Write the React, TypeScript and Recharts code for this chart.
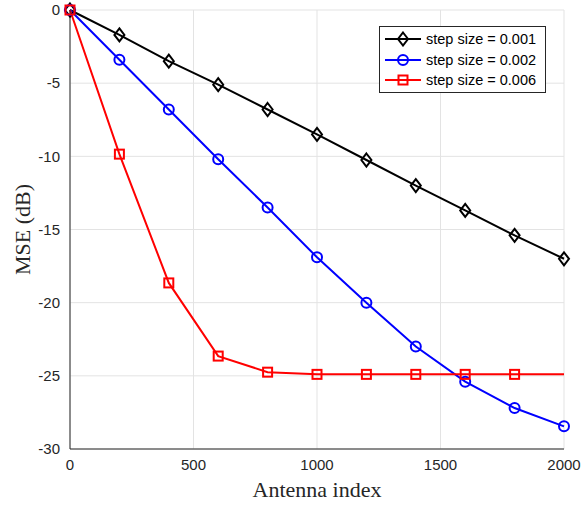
import React from 'react';
import {
  LineChart,
  Line,
  XAxis,
  YAxis,
  CartesianGrid,
  Label
} from 'recharts';

const antennaIndex = [0, 200, 400, 600, 800, 1000, 1200, 1400, 1600, 1800, 2000];
const mse001 = [0, -1.7, -3.5, -5.1, -6.8, -8.5, -10.25, -12.0, -13.7, -15.4, -17.0];
const mse002 = [0, -3.4, -6.8, -10.2, -13.5, -16.9, -20.0, -23.0, -25.4, -27.2, -28.45];
const mse006 = [0, -9.85, -18.65, -23.65, -24.75, -24.9, -24.9, -24.9, -24.9, -24.9, -24.9];
const xTicks = [0, 500, 1000, 1500, 2000];
const yTicks = [0, -5, -10, -15, -20, -25, -30];

const data = antennaIndex.map((x, i) => ({
  x,
  a: mse001[i],
  b: mse002[i],
  c: mse006[i]
}));

const Diamond = (props: any) => {
  const { cx, cy, stroke } = props;
  if (cx == null || cy == null) return null;
  return (
    <path
      d={`M${cx},${cy - 6.5} L${cx + 5},${cy} L${cx},${cy + 6.5} L${cx - 5},${cy} Z`}
      fill="none"
      stroke={stroke}
      strokeWidth={2}
    />
  );
};

const Circle = (props: any) => {
  const { cx, cy, stroke } = props;
  if (cx == null || cy == null) return null;
  return <circle cx={cx} cy={cy} r={5} fill="none" stroke={stroke} strokeWidth={2} />;
};

const Square = (props: any) => {
  const { cx, cy, stroke, index } = props;
  if (cx == null || cy == null || index === antennaIndex.length - 1) return null;
  return <rect x={cx - 4.5} y={cy - 4.5} width={9} height={9} fill="none" stroke={stroke} strokeWidth={2} />;
};

const legendItems = [
  { label: 'step size = 0.001', color: '#000000', marker: 'diamond' },
  { label: 'step size = 0.002', color: '#0000FF', marker: 'circle' },
  { label: 'step size = 0.006', color: '#FF0000', marker: 'square' }
];

const LegendBox = () => (
  <div
    style={{
      position: 'absolute',
      left: 379,
      top: 26,
      border: '1px solid #262626',
      background: '#fff',
      width: 167,
      height: 67,
      padding: '2px 0',
      boxSizing: 'border-box',
      fontFamily: 'Liberation Sans, Arial, sans-serif',
      fontSize: 14.5,
      color: '#000'
    }}
  >
    {legendItems.map((it) => (
      <div key={it.label} style={{ display: 'flex', alignItems: 'center', height: 20.5 }}>
        <svg width={38} height={16} style={{ marginLeft: 4, flexShrink: 0 }}>
          <line x1={1} y1={8} x2={37} y2={8} stroke={it.color} strokeWidth={2} />
          {it.marker === 'diamond' && (
            <path d="M19,1.5 L24,8 L19,14.5 L14,8 Z" fill="none" stroke={it.color} strokeWidth={2} />
          )}
          {it.marker === 'circle' && <circle cx={19} cy={8} r={5} fill="none" stroke={it.color} strokeWidth={2} />}
          {it.marker === 'square' && (
            <rect x={14.5} y={3.5} width={9} height={9} fill="none" stroke={it.color} strokeWidth={2} />
          )}
        </svg>
        <span style={{ marginLeft: 4, whiteSpace: 'nowrap' }}>{it.label}</span>
      </div>
    ))}
  </div>
);

const tickStyle = { fontSize: 15, fill: '#262626', fontFamily: 'Liberation Sans, Arial, sans-serif' };
const labelFont = 'Liberation Serif, DejaVu Serif, serif';

export default function App() {
  return (
    <div style={{ position: 'absolute', left: 0, top: 0, width: 582, height: 505, background: '#fff' }}>
      <LineChart width={582} height={505} data={data} margin={{ top: 10, right: 18, left: 0, bottom: 0 }}>
        <CartesianGrid stroke="#E3E3E3" strokeWidth={1} />
        <XAxis
          dataKey="x"
          type="number"
          domain={[0, 2000]}
          ticks={xTicks}
          height={56}
          axisLine={{ stroke: '#262626' }}
          tickLine={false}
          tick={tickStyle}
          tickMargin={4}
        >
          <Label
            value="Antenna index"
            position="insideBottom"
            offset={8}
            style={{ fontSize: 22, fill: '#262626', fontFamily: labelFont }}
          />
        </XAxis>
        <XAxis
          xAxisId="top"
          dataKey="x"
          type="number"
          domain={[0, 2000]}
          orientation="top"
          height={0}
          tick={false}
          tickLine={false}
          axisLine={{ stroke: '#262626' }}
        />
        <YAxis
          type="number"
          domain={[-30, 0]}
          ticks={yTicks}
          width={70}
          axisLine={{ stroke: '#262626' }}
          tickLine={false}
          tick={tickStyle}
          tickMargin={4}
        >
          <Label
            value="MSE (dB)"
            angle={-90}
            position="insideLeft"
            offset={22}
            style={{ fontSize: 22, fill: '#262626', fontFamily: labelFont, textAnchor: 'middle' }}
          />
        </YAxis>
        <YAxis
          yAxisId="right"
          type="number"
          domain={[-30, 0]}
          orientation="right"
          width={0}
          tick={false}
          tickLine={false}
          axisLine={{ stroke: '#262626' }}
        />
        <Line
          dataKey="a"
          stroke="#000000"
          strokeWidth={2}
          dot={<Diamond />}
          activeDot={false}
          isAnimationActive={false}
        />
        <Line
          dataKey="b"
          stroke="#0000FF"
          strokeWidth={2}
          dot={<Circle />}
          activeDot={false}
          isAnimationActive={false}
        />
        <Line
          dataKey="c"
          stroke="#FF0000"
          strokeWidth={2}
          dot={<Square />}
          activeDot={false}
          isAnimationActive={false}
        />
      </LineChart>
      <LegendBox />
    </div>
  );
}
